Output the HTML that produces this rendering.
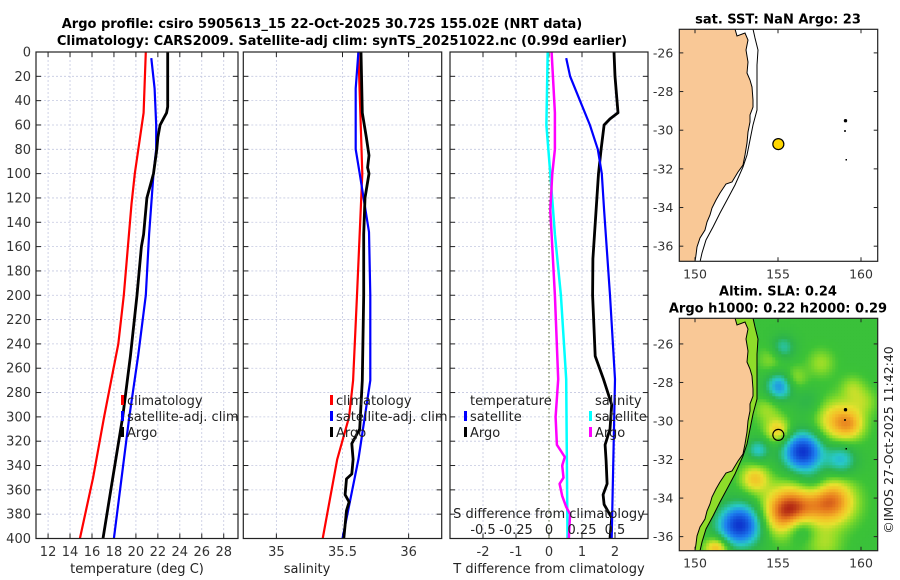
<!DOCTYPE html>
<html><head><meta charset="utf-8"><style>
html,body{margin:0;padding:0;background:#fff;width:900px;height:580px;overflow:hidden}
svg text{font-family:"DejaVu Sans","Liberation Sans",sans-serif}
</style></head><body>
<svg id="fig" width="900" height="580" viewBox="0 0 900 580" xmlns="http://www.w3.org/2000/svg">
<text x="322" y="28" text-anchor="middle" font-size="13" font-weight="bold">Argo profile: csiro 5905613_15 22-Oct-2025 30.72S 155.02E (NRT data)</text>
<text x="342" y="45" text-anchor="middle" font-size="13" font-weight="bold">Climatology: CARS2009. Satellite-adj clim: synTS_20251022.nc (0.99d earlier)</text>
<g id="panels"></g>
<g id="maps"></g>
<text transform="translate(893,440) rotate(-90)" text-anchor="middle" font-size="12.5" fill="#222">©IMOS 27-Oct-2025 11:42:40</text>
</svg>
<script>
// ---------- data ----------
const depthTicks=[0,20,40,60,80,100,120,140,160,180,200,220,240,260,280,300,320,340,360,380,400];
const tempTicks=[12,14,16,18,20,22,24,26,28];
const salTicks=[35,35.5,36];
const salTickLabels=["35","35.5","36"];
const tdTicks=[-2,-1,0,1,2];
const sdTicks=[-0.5,-0.25,0,0.25,0.5];
const sdTickLabels=["-0.5","-0.25","0","0.25","0.5"];

const tempClimDepth=[0,50,100,125,200,240,300,350,400];
const tempClimVal=[20.9,20.7,19.9,19.6,18.9,18.4,17.1,16.1,14.9];
const tempSatDepth=[5,30,60,80,100,150,200,250,300,350,400];
const tempSatVal=[21.4,21.7,21.85,21.85,21.6,21.2,20.9,20.2,19.4,18.7,18.0];
const tempArgoDepth=[0,45,50,55,60,70,80,100,120,150,160,200,250,300,350,400];
const tempArgoVal=[22.9,22.9,22.8,22.5,22.2,22.0,21.9,21.6,21.0,20.7,20.5,20.1,19.5,18.8,17.9,17.0];

const salClimDepth=[0,100,200,270,300,335,400];
const salClimVal=[35.62,35.65,35.61,35.58,35.55,35.46,35.35];
const salSatDepth=[0,30,80,100,148,200,270,335,400];
const salSatVal=[35.62,35.6,35.6,35.63,35.7,35.71,35.71,35.62,35.5];
const salArgoDepth=[0,50,70,85,95,100,120,150,200,270,310,322,335,347,351,364,370,377,400];
const salArgoVal=[35.64,35.65,35.68,35.70,35.69,35.70,35.67,35.66,35.66,35.65,35.63,35.57,35.58,35.57,35.53,35.52,35.55,35.53,35.51];

const dTSatDepth=[5,20,40,60,80,100,130,200,269,400];
const dTSatVal=[0.52,0.64,0.94,1.24,1.48,1.6,1.67,1.85,2.0,1.9];
const dTArgoDepth=[0,20,50,55,60,80,100,120,150,170,200,250,269,290,310,323,336,355,364,372,383,400];
const dTArgoVal=[1.97,2.0,2.09,1.85,1.67,1.58,1.5,1.45,1.38,1.33,1.32,1.4,1.65,1.9,1.85,1.7,1.73,1.76,1.64,1.67,1.9,1.85];
const dSSatDepth=[0,60,100,150,200,269,400];
const dSSatVal=[-0.01,-0.02,0.01,0.045,0.09,0.13,0.14];
const dSArgoDepth=[0,50,80,100,130,150,200,269,300,323,333,340,350,355,365,374,380,400];
const dSArgoVal=[0.02,0.045,0.045,0.025,0.01,0.02,0.045,0.07,0.05,0.06,0.12,0.1,0.11,0.08,0.1,0.13,0.16,0.15];

// SLA anomaly blobs: lon, lat, value, radius(deg)
const slaLon=[155.1,155.3,156.5,155.0,158.6,159.4,158.8,153.6,155.7,158.2,152.7,156.3,153.8,156.0,151.3,159.5,157.2,157.6,160.2,154.3,157.8,156.8,154.6];
const slaLat=[-28.2,-26.2,-31.6,-30.5,-30.0,-30.2,-32.0,-33.0,-34.7,-34.2,-35.4,-35.5,-31.5,-27.8,-36.6,-28.3,-33.2,-27.0,-29.0,-29.4,-36.4,-29.0,-26.8];
const slaVal=[-0.6,-0.35,-1.0,0.45,0.5,0.3,-0.45,0.45,1.0,0.75,-1.0,-0.45,-0.4,0.22,0.55,0.2,-0.2,0.2,0.18,0.2,0.2,-0.15,0.18];
const slaRad=[0.5,0.45,0.7,0.45,0.75,0.5,0.55,0.5,0.85,0.8,0.75,0.55,0.4,0.45,0.4,0.45,0.55,0.5,0.5,0.5,0.6,0.5,0.5];

// ---------- helpers ----------
const NS="http://www.w3.org/2000/svg";
function mk(tag,attrs,parent){const e=document.createElementNS(NS,tag);for(const k in attrs)e.setAttribute(k,attrs[k]);parent.appendChild(e);return e;}
const panels=document.getElementById('panels');
const Y0=52,Y1=538.5;
function yD(d){return Y0+(d/400)*(Y1-Y0);}

function panel(name,x0,x1,dmin,dmax,vTicks,showYLabels){
  const g=mk('g',{},panels);
  
  
  const xs=v=>x0+(v-dmin)/(dmax-dmin)*(x1-x0);
  mk('rect',{x:x0,y:Y0,width:x1-x0,height:Y1-Y0,fill:'#fff'},g);
  depthTicks.forEach(d=>{
    if(d>0&&d<400)mk('line',{x1:x0,x2:x1,y1:yD(d),y2:yD(d),stroke:'#c4c8e0','stroke-width':0.8,'stroke-dasharray':'2,2'},g);
    mk('line',{x1:x0,x2:x0+5,y1:yD(d),y2:yD(d),stroke:'#222','stroke-width':1},g);
    mk('line',{x1:x1-5,x2:x1,y1:yD(d),y2:yD(d),stroke:'#222','stroke-width':1},g);
    if(showYLabels){const t=mk('text',{x:x0-5,y:yD(d)+4.5,'text-anchor':'end','font-size':13,fill:'#333'},g);t.textContent=d;
      
      }
  });
  vTicks.forEach(v=>{
    mk('line',{x1:xs(v),x2:xs(v),y1:Y0,y2:Y1,stroke:'#c4c8e0','stroke-width':0.8,'stroke-dasharray':'2,2'},g);
    mk('line',{x1:xs(v),x2:xs(v),y1:Y0,y2:Y0+5,stroke:'#222'},g);
    mk('line',{x1:xs(v),x2:xs(v),y1:Y1-5,y2:Y1,stroke:'#222'},g);
  });
  return {g,xs};
}
function line(p,name,depths,vals,color,w){
  const pts=depths.map((d,i)=>p.xs(vals[i]).toFixed(1)+','+yD(d).toFixed(1)).join(' ');
  const l=mk('polyline',{points:pts,fill:'none',stroke:color,'stroke-width':w,'stroke-linejoin':'round'},p.g);
  
  
}
function frame(p,x0,x1){mk('rect',{x:x0,y:Y0,width:x1-x0,height:Y1-Y0,fill:'none',stroke:'#222','stroke-width':1.2},p.g);}
function xlabels(p,ticks,labels,title,cx){
  ticks.forEach((v,i)=>{const t=mk('text',{x:p.xs(v),y:556,'text-anchor':'middle','font-size':13,fill:'#333'},p.g);t.textContent=labels?labels[i]:v;
    
    });
  const t=mk('text',{x:cx,y:573,'text-anchor':'middle','font-size':13,fill:'#222'},p.g);t.textContent=title;
  
  
}
function legendEntry(p,x,y,color,label){
  const g=mk('g',{},p.g);
  
  
  if(color)mk('rect',{x:x-6,y:y-10,width:3,height:10,fill:color},g);
  const t=mk('text',{x:x,y:y,'font-size':13,fill:'#222'},g);t.textContent=label;
}

// Panel 1
const p1=panel('temperature-panel',36,238,10.9,29.3,tempTicks,true);
line(p1,'temp-climatology-line',tempClimDepth,tempClimVal,'#ff0000',2.2);
line(p1,'temp-satellite-line',tempSatDepth,tempSatVal,'#0000ff',2.2);
line(p1,'temp-argo-line',tempArgoDepth,tempArgoVal,'#000',2.8);
xlabels(p1,tempTicks,null,'temperature (deg C)',137);
// Panel 2
const p2=panel('salinity-panel',243.3,441.7,34.75,36.25,salTicks,false);
line(p2,'sal-climatology-line',salClimDepth,salClimVal,'#ff0000',2.2);
line(p2,'sal-satellite-line',salSatDepth,salSatVal,'#0000ff',2.2);
line(p2,'sal-argo-line',salArgoDepth,salArgoVal,'#000',2.8);
xlabels(p2,salTicks,salTickLabels,'salinity',307);
// Panel 3
const p3=panel('difference-panel',450,648,-3,3,tdTicks,false);
const sxs=v=>549+v*132;
mk('line',{x1:549,x2:549,y1:Y0,y2:Y1,stroke:'#556b2f','stroke-width':1,'stroke-dasharray':'1.5,2.5'},p3.g);
line(p3,'dT-argo-line',dTArgoDepth,dTArgoVal,'#000',2.8);
line(p3,'dT-satellite-line',dTSatDepth,dTSatVal,'#0000ff',2.2);
{const pS={g:p3.g,xs:sxs};
line(pS,'dS-satellite-line',dSSatDepth,dSSatVal,'#00ffff',2.5);
line(pS,'dS-argo-line',dSArgoDepth,dSArgoVal,'#ff00ff',2.5);}
xlabels(p3,tdTicks,null,'T difference from climatology',549);
{const t=mk('text',{x:549,y:518,'text-anchor':'middle','font-size':13,fill:'#222'},p3.g);t.textContent='S difference from climatology';


sdTicks.forEach((v,i)=>{const s=mk('text',{x:sxs(v),y:534,'text-anchor':'middle','font-size':13,fill:'#222'},p3.g);s.textContent=sdTickLabels[i];

});}
frame(p1,36,238);frame(p2,243.3,441.7);frame(p3,450,648);
// legends
[[p1,127],[p2,336]].forEach(([p,x])=>{
  legendEntry(p,x,405,'#ff0000','climatology');
  legendEntry(p,x,421,'#0000ff','satellite-adj. clim');
  legendEntry(p,x,437,'#000','Argo');
});
legendEntry(p3,470,405,null,'temperature');
legendEntry(p3,470,421,'#0000ff','satellite');
legendEntry(p3,470,437,'#000','Argo');
legendEntry(p3,595,405,null,'salinity');
legendEntry(p3,595,421,'#00ffff','satellite');
legendEntry(p3,595,437,'#ff00ff','Argo');

// ---------- maps ----------
const maps=document.getElementById('maps');
const MX0=679.3,MX1=877.7;
const lonX=lon=>778+(lon-155)*16.6;
const coast=[[679,29],[735,29],[737,36],[745,33],[748,40],[746,50],[748,62],[747,73],[750,80],[752,87],[753,100],[753,107],[750,115],[750,122],[748,132],[747,143],[745,155],[743,165],[738,172],[732,182],[726,184],[720,193],[716,200],[712,208],[710,215],[707,222],[705,230],[700,238],[697,247],[696,255],[695,262],[679,262]];
const iso=[[753,29],[755,38],[758,50],[757,65],[757,87],[757,110],[753,125],[750,140],[747,155],[743,167],[735,185],[727,200],[720,213],[713,227],[706,240],[702,253],[700,262]];
function jet(v){
  const stops=[[-1,[10,40,200]],[-0.6,[30,130,240]],[-0.35,[40,200,200]],[-0.12,[45,180,75]],[0.08,[60,195,55]],[0.22,[140,220,40]],[0.38,[230,225,45]],[0.55,[245,190,40]],[0.78,[230,120,30]],[1,[175,35,20]]];
  v=Math.max(-1,Math.min(1,v));
  for(let i=1;i<stops.length;i++){if(v<=stops[i][0]){const a=stops[i-1],b=stops[i],t=(v-a[0])/(b[0]-a[0]);
    return 'rgb('+a[1].map((c,k)=>Math.round(c+(b[1][k]-c)*t)).join(',')+')';}}
  return 'rgb(175,35,20)';
}
function drawMap(name,top,bottom,latTop,latPerPx,heat,titleLines,dotStyle){
  const g=mk('g',{},maps);
  
  
  const off=top-29.3;
  const latY=lat=>top+(latTop-lat)/latPerPx;
  const cid='clip'+name;
  const cp=mk('clipPath',{id:cid},g);mk('rect',{x:MX0,y:top,width:MX1-MX0,height:bottom-top},cp);
  const inner=mk('g',{'clip-path':'url(#'+cid+')'},g);
  mk('rect',{x:MX0,y:top,width:MX1-MX0,height:bottom-top,fill:'#fff'},inner);
  if(heat){
    const cell=3;
    for(let y=top;y<bottom;y+=cell){for(let x=MX0;x<MX1;x+=cell){
      const lon=155+(x+cell/2-778)/16.6, lat=latTop-(y+cell/2-top)*latPerPx;
      let v=0.05;
      for(let i=0;i<slaVal.length;i++){const dx=(lon-slaLon[i])*Math.cos(lat*Math.PI/180),dy=lat-slaLat[i];v+=slaVal[i]*Math.exp(-(dx*dx+dy*dy)/(2*slaRad[i]*slaRad[i]));}
      mk('rect',{x:x,y:y,width:cell+0.3,height:cell+0.3,fill:jet(v)},inner);
    }}
    const strip=coast.slice(1,31).concat(iso.slice().reverse());
    mk('polygon',{points:strip.map(p=>p[0]+','+(p[1]+off)).join(' '),fill:'#8edc2a'},inner);
  }
  const land=mk('polygon',{points:coast.map(p=>p[0]+','+(p[1]+off)).join(' '),fill:'#f9c896',stroke:'#000','stroke-width':1},inner);
  
  
  mk('polyline',{points:iso.map(p=>p[0]+','+(p[1]+off)).join(' '),fill:'none',stroke:'#000','stroke-width':1},inner);
  mk('circle',{cx:845.5,cy:120.7+off,r:1.7,fill:'#000'},inner);
  mk('circle',{cx:845,cy:131+off,r:1,fill:'#000'},inner);
  mk('rect',{x:845.5,y:159+off,width:1.5,height:1.5,fill:'#000'},inner);
  const mk2=mk('circle',{cx:lonX(155.02),cy:latY(-30.72),r:5.5,fill:dotStyle,stroke:'#000','stroke-width':1.2},g);
  
  
  mk('rect',{x:MX0,y:top,width:MX1-MX0,height:bottom-top,fill:'none',stroke:'#222','stroke-width':1.2},g);
  [-26,-28,-30,-32,-34,-36].forEach(l=>{const y=latY(l);
    mk('line',{x1:MX0,x2:MX0+4,y1:y,y2:y,stroke:'#222'},g);mk('line',{x1:MX1-4,x2:MX1,y1:y,y2:y,stroke:'#222'},g);
    const t=mk('text',{x:MX0-6,y:y+4.5,'text-anchor':'end','font-size':12.5,fill:'#333'},g);t.textContent=l;
    
    });
  [150,155,160].forEach(l=>{const x=lonX(l);
    mk('line',{x1:x,x2:x,y1:bottom-4,y2:bottom,stroke:'#222'},g);mk('line',{x1:x,x2:x,y1:top,y2:top+4,stroke:'#222'},g);
    const t=mk('text',{x:x,y:bottom+17,'text-anchor':'middle','font-size':12.5,fill:'#333'},g);t.textContent=l;
    
    });
  titleLines.forEach((s,i)=>{const t=mk('text',{x:778,y:top-(titleLines.length-1-i)*17-6,'text-anchor':'middle','font-size':13,'font-weight':'bold'},g);t.textContent=s;
    
    });
}
drawMap('sst-map',29.3,261.3,-24.78,1/19.33,false,['sat. SST: NaN Argo: 23'],'#ffd700');
drawMap('sla-map',318.3,550.7,-24.67,1/19.27,true,['Altim. SLA: 0.24','Argo h1000: 0.22 h2000: 0.29'],'none');
</script>
</body></html>
